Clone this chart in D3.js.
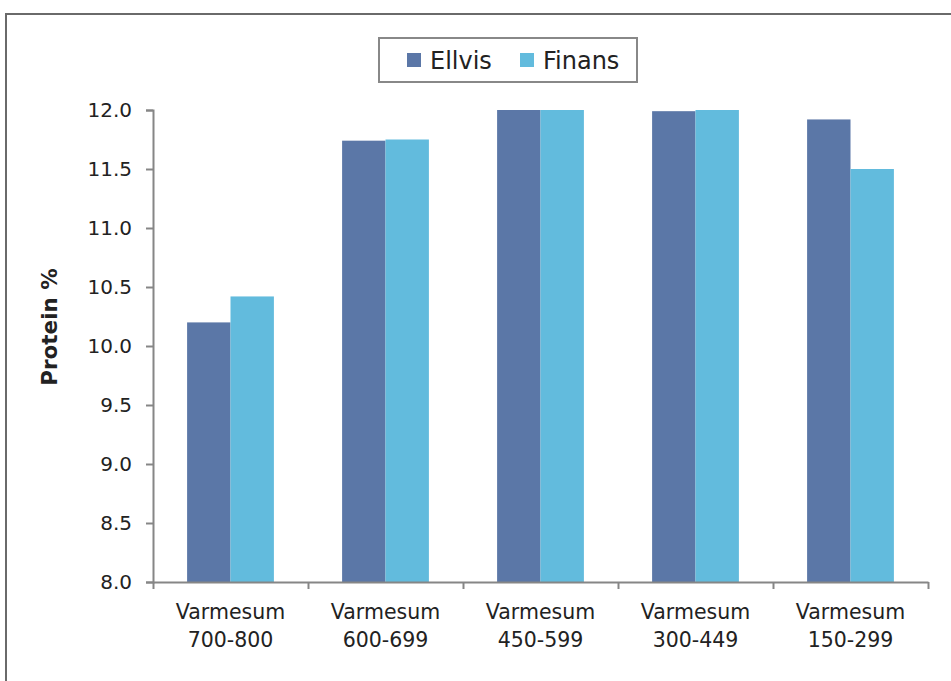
<!DOCTYPE html>
<html><head><meta charset="utf-8">
<script src="https://cdn.jsdelivr.net/npm/d3@7"></script>
<style>body{margin:0;background:#fff;}svg{display:block;}</style>
</head><body>
<script>
const categories = [["Varmesum","700-800"],["Varmesum","600-699"],["Varmesum","450-599"],["Varmesum","300-449"],["Varmesum","150-299"]];
const seriesNames = ["Ellvis","Finans"];
const ellvis = [10.2, 11.74, 12.0, 11.99, 11.92];
const finans = [10.42, 11.75, 12.0, 12.0, 11.5];
const yTicks = [8.0, 8.5, 9.0, 9.5, 10.0, 10.5, 11.0, 11.5, 12.0];
const colors = ["#5b77a7", "#62bbdd"];

(function(){
const W = 951, H = 681;
const font = "DejaVu Sans, sans-serif";
const svg = d3.select("body").append("svg").attr("width", W).attr("height", H);

// outer frame
svg.append("rect").attr("x", 6).attr("y", 14).attr("width", W + 10).attr("height", H + 10)
  .attr("fill", "none").attr("stroke", "#6a6a6a").attr("stroke-width", 2);

const pLeft = 153, pRight = 928, pTop = 110, pBottom = 582;
const x0 = d3.scaleBand().domain(d3.range(categories.length)).range([pLeft, pRight]).paddingInner(0.44).paddingOuter(0.22);
const x1 = d3.scaleBand().domain(seriesNames).range([0, x0.bandwidth()]);
const y = d3.scaleLinear().domain([8, 12]).range([pBottom, pTop]);

const data = categories.map((c, i) => ({i, vals: [ellvis[i], finans[i]]}));
const g = svg.append("g");
g.selectAll("g.grp").data(data).join("g").attr("class","grp")
  .attr("transform", d => `translate(${x0(d.i)},0)`)
  .selectAll("rect").data(d => d.vals.map((v, k) => ({v, k})))
  .join("rect")
  .attr("x", d => x1(seriesNames[d.k]))
  .attr("width", x1.bandwidth())
  .attr("y", d => y(d.v))
  .attr("height", d => y(8) - y(d.v))
  .attr("fill", d => colors[d.k]);

// y axis
const yAxis = svg.append("g").attr("transform", `translate(${pLeft},0)`)
  .call(d3.axisLeft(y).tickValues(yTicks).tickFormat(d3.format(".1f")).tickSize(7).tickPadding(14));
yAxis.select(".domain").attr("stroke", "#868686").attr("stroke-width", 2);
yAxis.selectAll(".tick line").attr("stroke", "#868686").attr("stroke-width", 2);
yAxis.selectAll(".tick text").attr("font-family", font).attr("font-size", 20).attr("fill", "#222");

// x axis
const xb = d3.scaleLinear().domain([0, categories.length]).range([pLeft, pRight]);
const xAxis = svg.append("g").attr("transform", `translate(0,${pBottom})`)
  .call(d3.axisBottom(xb).tickValues(d3.range(categories.length + 1)).tickFormat("").tickSize(7).tickSizeOuter(0));
xAxis.select(".domain").attr("stroke", "#868686").attr("stroke-width", 2);
xAxis.selectAll(".tick line").attr("stroke", "#868686").attr("stroke-width", 2);

// category labels
categories.forEach((c, i) => {
  const cx = xb(i + 0.5);
  c.forEach((line, j) => {
    svg.append("text").attr("x", cx).attr("y", 619 + j * 28)
      .attr("text-anchor", "middle").attr("font-family", font).attr("font-size", 20.5).attr("fill", "#222")
      .text(line);
  });
});

// y title
svg.append("text").attr("transform", "translate(57,327) rotate(-90)")
  .attr("text-anchor", "middle").attr("font-family", font).attr("font-weight", "bold")
  .attr("font-size", 21.5).attr("fill", "#222").text("Protein %");

// legend
const lg = svg.append("g");
lg.append("rect").attr("x", 379).attr("y", 38).attr("width", 258).attr("height", 44)
  .attr("fill", "#fff").attr("stroke", "#888").attr("stroke-width", 2);
const legX = [407, 520];
seriesNames.forEach((s, k) => {
  lg.append("rect").attr("x", legX[k]).attr("y", 53).attr("width", 14).attr("height", 14).attr("fill", colors[k]);
  lg.append("text").attr("x", legX[k] + 23).attr("y", 69).attr("font-family", font)
    .attr("font-size", 24).attr("fill", "#222").text(s);
});
})();
</script>
</body></html>
